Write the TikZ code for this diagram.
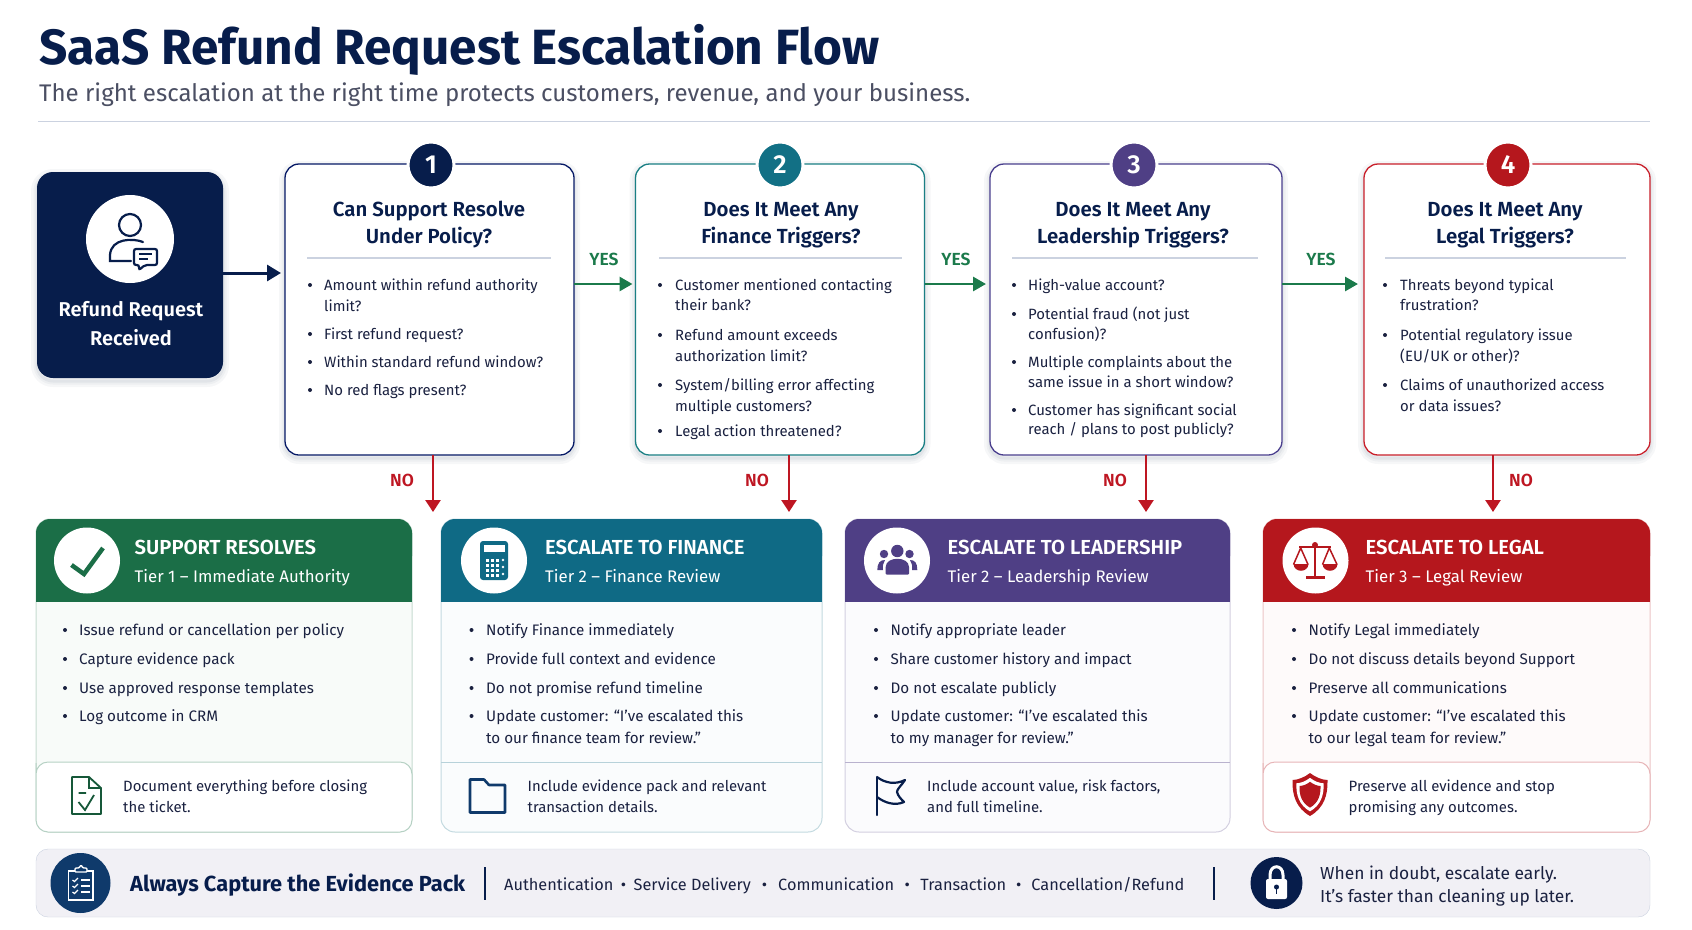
\documentclass[tikz,border=0pt]{standalone}
\usepackage{fontspec}
\usepackage{xcolor}
\setmainfont{Fira Sans}
\newfontfamily\medfont{Fira Sans SemiBold}
\usetikzlibrary{arrows.meta}
\definecolor{navy}{HTML}{071D4B}
\definecolor{ink}{HTML}{1A2140}
\definecolor{subgrey}{HTML}{4B4F63}
\definecolor{rulegrey}{HTML}{CBD2E0}
\definecolor{okgreen}{HTML}{1B7A4B}
\definecolor{nored}{HTML}{BE1622}
\definecolor{hgreen}{HTML}{1B6E47}
\definecolor{hteal}{HTML}{0F6A85}
\definecolor{hpurple}{HTML}{4F3F85}
\definecolor{hred}{HTML}{B5171D}
\definecolor{bteal}{HTML}{1A7F84}
\definecolor{bpurple}{HTML}{4A3F8E}
\definecolor{bred}{HTML}{C9202B}
\definecolor{iconblue}{HTML}{0F3A6B}
\tikzset{
	softshadow/.style={
		preaction={draw=navy,draw opacity=.035,line width=12,transform canvas={yshift=-3}},
		preaction={draw=navy,draw opacity=.035,line width=7,transform canvas={yshift=-3}},
		preaction={draw=navy,draw opacity=.05,line width=3,transform canvas={yshift=-3}}},
	startbox/.style={fill=navy,rounded corners=16,minimum width=186,minimum height=206,inner sep=0,outer sep=0,softshadow},
	askbox/.style={fill=white,line width=1.3,rounded corners=14,minimum height=291,inner sep=0,outer sep=0,softshadow},
	badge/.style={circle,draw=white,line width=3,minimum size=46,inner sep=0,text=white,font=\medfont\fontsize{26}{26}\selectfont},
	asktitle/.style={anchor=base,inner sep=0,text=navy,font=\medfont\fontsize{20.4}{22}\selectfont},
	item/.style={anchor=base west,inner sep=0,text=ink,font=\fontsize{14.9}{18}\selectfont},
	carditem/.style={item,font=\fontsize{15.2}{18}\selectfont},
	dot/.style={fill=ink},
	yesline/.style={draw=okgreen,line width=2.8,-{Triangle[length=13pt,width=14pt]}},
	noline/.style={draw=nored,line width=2.6,-{Triangle[length=12pt,width=15pt]},shorten >=7pt},
	yeslabel/.style={inner sep=0,text=okgreen,font=\medfont\fontsize{17.5}{20}\selectfont},
	nolabel/.style={inner sep=0,text=nored,font=\medfont\fontsize{17.5}{20}\selectfont},
	card/.style={line width=1,rounded corners=14,minimum height=313,inner sep=0,outer sep=0},
	iconcircle/.style={circle,fill=white,minimum size=66,inner sep=0},
	cardtitle/.style={anchor=base west,inner sep=0,text=white,font=\medfont\fontsize{20.3}{24}\selectfont},
	cardsub/.style={anchor=base west,inner sep=0,text=white,font=\fontsize{16.8}{20}\selectfont},
}
\begin{document}
\begin{tikzpicture}[x=1pt,y=-1pt]
		\useasboundingbox (0,0) rectangle (1692,929);
		\fill[white] (0,0) rectangle (1692,929);

		\node[anchor=base west,inner sep=0,text=navy,font=\bfseries\fontsize{49.5}{54}\selectfont] (title) at (39,64) {SaaS Refund Request Escalation Flow};
		\node[anchor=base west,inner sep=0,text=subgrey,font=\fontsize{24.05}{28}\selectfont] (subtitle) at (39,101) {The right escalation at the right time protects customers, revenue, and your business.};
		\draw[rulegrey,line width=1] (38,121)--(1650,121);

		\node[startbox] (start) at (130,275) {};
		\node[circle,fill=white,minimum size=88,inner sep=0] (startcircle) at (130,239) {};
		\draw[navy,line width=2.2] (130,225) circle(11);
		\draw[navy,line width=2.2,line cap=round] (143,242) .. controls (133,238) and (111,238) .. (110,255) -- (110,261) -- (131,261);
		\draw[navy,line width=2.2,fill=white,rounded corners=2] (134,249) -- (157,249) -- (157,265) -- (145,265) -- (139,270) -- (139,265) -- (134,265) -- cycle;
		\draw[navy,line width=1.8] (139,254) -- (152,254) (139,259) -- (148,259);
		\node[anchor=base,inner sep=0,text=white,font=\medfont\fontsize{20}{24}\selectfont] (startone) at (131,316) {Refund Request};
		\node[anchor=base,inner sep=0,text=white,font=\medfont\fontsize{20}{24}\selectfont] (starttwo) at (131,345) {Received};

		\node[askbox,draw=navy!85!blue,minimum width=289] (q1) at (429.5,309.5) {};
		\node[askbox,draw=bteal,minimum width=289] (q2) at (780,309.5) {};
		\node[askbox,draw=bpurple,minimum width=292] (q3) at (1136,309.5) {};
		\node[askbox,draw=bred,minimum width=286] (q4) at (1507,309.5) {};

		\node[badge,fill=navy] (b1) at (431,165) {1};
		\node[badge,fill=hteal!70!bteal] (b2) at (780,165) {2};
		\node[badge,fill=hpurple] (b3) at (1134,165) {3};
		\node[badge,fill=hred] (b4) at (1508,165) {4};

		\foreach \x/\y/\t [count=\i] in {429/216/{Can Support Resolve},429/243/{Under Policy?},781/216/{Does It Meet Any},781/243/{Finance Triggers?},1133/216/{Does It Meet Any},1133/243/{Leadership Triggers?},1505/216/{Does It Meet Any},1505/243/{Legal Triggers?}}
			\node[asktitle] (asktext\i) at (\x,\y) {\t};
		\draw[rulegrey,line width=1.2] (307,258)--(551,258);
		\draw[rulegrey,line width=1.2] (659,258)--(902,258);
		\draw[rulegrey,line width=1.2] (1012,258)--(1258,258);
		\draw[rulegrey,line width=1.2] (1385,258)--(1626,258);

		\foreach \y/\t in {290/{Amount within refund authority},311/{limit?},339/{First refund request?},367/{Within standard refund window?},395/{No red flags present?}}
			\node[item] (qa\y) at (324,\y) {\t};
		\foreach \y in {290,339,367,395}
			\fill[dot] (310,\y-5) circle(2);
		\foreach \y/\t in {290/{Customer mentioned contacting},310/{their bank?},340/{Refund amount exceeds},361/{authorization limit?},390/{System/billing error affecting},411/{multiple customers?},436/{Legal action threatened?}}
			\node[item] (qb\y) at (675,\y) {\t};
		\foreach \y in {290,340,390,436}
			\fill[dot] (660,\y-5) circle(2);
		\foreach \y/\t in {290/{High-value account?},319/{Potential fraud (not just},339/{confusion)?},367/{Multiple complaints about the},387/{same issue in a short window?},415/{Customer has significant social},434/{reach / plans to post publicly?}}
			\node[item] (qc\y) at (1028,\y) {\t};
		\foreach \y in {290,319,367,415}
			\fill[dot] (1014,\y-5) circle(2);
		\foreach \y/\t in {290/{Threats beyond typical},310/{frustration?},340/{Potential regulatory issue},361/{(EU/UK or other)?},390/{Claims of unauthorized access},411/{or data issues?}}
			\node[item] (qd\y) at (1400,\y) {\t};
		\foreach \y in {290,340,390}
			\fill[dot] (1385,\y-5) circle(2);

		\draw[navy,line width=3,-{Triangle[length=14pt,width=16pt]},shorten >=4pt] ([yshift=2]start.east) -- ([yshift=2]start.east -| q1.west);
		\draw[yesline,shorten >=3pt] ([yshift=25.5]q1.east) -- ([yshift=25.5]q1.east -| q2.west);
		\draw[yesline,shorten >=4pt] ([yshift=25.5]q2.east) -- ([yshift=25.5]q2.east -| q3.west);
		\draw[yesline,shorten >=6pt] ([yshift=25.5]q3.east) -- ([yshift=25.5]q3.east -| q4.west);
		\node[yeslabel] (yes1) at (604,259) {YES};
		\node[yeslabel] (yes2) at (956,259) {YES};
		\node[yeslabel] (yes3) at (1321,259) {YES};

		\node[card,draw=hgreen!25,fill=hgreen!3,minimum width=376] (c1) at (224,675.5) {};
		\node[card,draw=hteal!25,fill=hteal!2,minimum width=381] (c2) at (631.5,675.5) {};
		\node[card,draw=hpurple!25,fill=hpurple!2,minimum width=385] (c3) at (1037.5,675.5) {};
		\node[card,draw=hred!25,fill=hred!2,minimum width=387] (c4) at (1456.5,675.5) {};

		\draw[noline] ([xshift=3.5]q1.south) -- ([xshift=3.5]q1.south |- c1.north);
		\draw[noline] ([xshift=9]q2.south) -- ([xshift=9]q2.south |- c2.north);
		\draw[noline] ([xshift=10]q3.south) -- ([xshift=10]q3.south |- c3.north);
		\draw[noline] ([xshift=-14]q4.south) -- ([xshift=-14]q4.south |- c4.north);
		\node[nolabel] (no1) at (402,480) {NO};
		\node[nolabel] (no2) at (757,480) {NO};
		\node[nolabel] (no3) at (1115,480) {NO};
		\node[nolabel] (no4) at (1521,480) {NO};

		\foreach \l/\r/\c in {36/412/hgreen,441/822/hteal,845/1230/hpurple,1263/1650/hred}{
			\fill[\c,rounded corners=14] (\l,519) rectangle (\r,570);
			\fill[\c] (\l,545) rectangle (\r,602);
		}
		\node[iconcircle] (ic1) at (87,560.5) {};
		\node[iconcircle] (ic2) at (494,560.5) {};
		\node[iconcircle] (ic3) at (897,560.5) {};
		\node[iconcircle] (ic4) at (1315.5,560.5) {};

		\draw[hgreen,line width=4.5] (71.5,565)--(84,574)--(103,548);

		\fill[hteal,rounded corners=3] (480,541) rectangle (508,580);
		\fill[white] (484,545) rectangle (505,552);
		\foreach \x in {487,492,497}
			\foreach \y in {560,565,570,575}
				\fill[white] (\x-1.5,\y-1.5) rectangle (\x+1.5,\y+1.5);
		\foreach \y in {560,567,574}
			\fill[white] (503,\y) circle(1.4);

		\fill[hpurple] (897.3,551) circle(6.2);
		\fill[hpurple] (884,554) circle(4.2);
		\fill[hpurple] (909.5,554) circle(4.2);
		\fill[hpurple,rounded corners=1] (885.7,574.5) -- (885.7,568) .. controls (885.7,556) and (909,556) .. (909,568) -- (909,574.5) -- cycle;
		\fill[hpurple] (877.3,570) .. controls (877.3,563) and (880,560) .. (885,560) .. controls (883,563) and (882.5,566) .. (883,570) -- cycle;
		\fill[hpurple] (917.3,570) .. controls (917.3,563) and (915,560) .. (910,560) .. controls (912,563) and (912.5,566) .. (912,570) -- cycle;

		\draw[hred,line width=2.2] (1315,545)--(1315,577) (1299,547)--(1331,547);
		\draw[hred,line width=3] (1306,577.5)--(1325,577.5);
		\fill[hred] (1315,545) circle(3);
		\draw[hred,line width=1.5] (1293.5,564.5)--(1300.7,548)--(1308,564.5) (1322.5,564.5)--(1329.3,548)--(1337,564.5);
		\fill[hred] (1293.5,564) .. controls (1294,573) and (1308,573) .. (1308.5,564) -- cycle;
		\fill[hred] (1322.5,564) .. controls (1323,573) and (1337,573) .. (1337.5,564) -- cycle;

		\foreach \x/\y/\t/\s [count=\i] in {134.5/554/{SUPPORT RESOLVES}/{Tier 1 – Immediate Authority},545/554/{ESCALATE TO FINANCE}/{Tier 2 – Finance Review},947.5/554/{ESCALATE TO LEADERSHIP}/{Tier 2 – Leadership Review},1365.5/554/{ESCALATE TO LEGAL}/{Tier 3 – Legal Review}}{
			\node[cardtitle] (ctitle\i) at (\x,\y) {\t};
			\node[cardsub] (csub\i) at (\x,\y+28) {\s};
		}

		\foreach \y/\t in {635/{Issue refund or cancellation per policy},664/{Capture evidence pack},693/{Use approved response templates},721/{Log outcome in CRM}}{
			\node[carditem] (ca\y) at (79,\y) {\t};
			\fill[dot] (65,\y-5) circle(2);
		}
		\foreach \y/\t in {635/{Notify Finance immediately},664/{Provide full context and evidence},693/{Do not promise refund timeline},721/{Update customer: “I’ve escalated this}}{
			\node[carditem] (cb\y) at (486,\y) {\t};
			\fill[dot] (471.5,\y-5) circle(2);
		}
		\node[carditem] (cb743) at (486,743) {to our finance team for review.”};
		\foreach \y/\t in {635/{Notify appropriate leader},664/{Share customer history and impact},693/{Do not escalate publicly},721/{Update customer: “I’ve escalated this}}{
			\node[carditem] (cc\y) at (890.5,\y) {\t};
			\fill[dot] (876,\y-5) circle(2);
		}
		\node[carditem] (cc743) at (890.5,743) {to my manager for review.”};
		\foreach \y/\t in {635/{Notify Legal immediately},664/{Do not discuss details beyond Support},693/{Preserve all communications},721/{Update customer: “I’ve escalated this}}{
			\node[carditem] (cd\y) at (1308.5,\y) {\t};
			\fill[dot] (1294,\y-5) circle(2);
		}
		\node[carditem] (cd743) at (1308.5,743) {to our legal team for review.”};

		\draw[hgreen!32,line width=1,fill=white,rounded corners=12] (36,775) -- (36,762) -- (412,762) -- (412,832) -- (36,832) -- cycle;
		\draw[hteal!30,line width=1] (441,762)--(822,762);
		\draw[hpurple!40,line width=1] (845,762)--(1230,762);
		\draw[hred!32,line width=1,fill=white,rounded corners=12] (1263,775) -- (1263,762) -- (1650,762) -- (1650,832) -- (1263,832) -- cycle;

		\foreach \x/\a/\b [count=\i] in {123/{Document everything before closing}/{the ticket.},527.5/{Include evidence pack and relevant}/{transaction details.},927/{Include account value, risk factors,}/{and full timeline.},1348.5/{Preserve all evidence and stop}/{promising any outcomes.}}{
			\node[item] (footone\i) at (\x,791) {\a};
			\node[item] (foottwo\i) at (\x,812) {\b};
		}

		\draw[hgreen!80!black,line width=1.8,line join=round] (72,777) -- (89,777) -- (101,788) -- (101,814) -- (72,814) -- cycle;
		\draw[hgreen!80!black,line width=1.5] (89,777) -- (89,788) -- (101,788);
		\draw[hgreen!80!black,line width=1.8] (78.5,793) -- (86,793) (78.5,802) -- (85,810) -- (94,795);

		\draw[iconblue,line width=2.6,line join=round] (470,812.5) -- (470,779.5) -- (484,779.5) -- (489,785) -- (505,785) -- (505,812.5) -- cycle;

		\draw[navy,line width=2.2,line cap=round] (877,815) -- (877,777);
		\draw[navy,line width=2.2,line join=round] (877,777) .. controls (885,783) and (895,785) .. (905,780) .. controls (901,786) and (897,789) .. (897,792) .. controls (898,796) and (901,799) .. (904,802) .. controls (895,806) and (885,803) .. (877,797);

		\begin{scope}[shift={(1310,795)}]
			\foreach \s/\c in {1/hred,0.78/white,0.6/hred}
				\fill[\c,scale=\s] (0,-22) .. controls (5,-18) and (12,-15) .. (17.5,-15) .. controls (18,0) and (14,13) .. (0,21) .. controls (-14,13) and (-18,0) .. (-17.5,-15) .. controls (-12,-15) and (-5,-18) .. (0,-22) -- cycle;
		\end{scope}

		\node[draw=rulegrey,fill=hpurple!8,rounded corners=12,minimum width=1614,minimum height=68,inner sep=0,outer sep=0] (bar) at (843,883) {};
		\node[circle,fill=iconblue,minimum size=60,inner sep=0] (packcircle) at (80.5,883) {};
		\draw[white,line width=1.4] (68.5,871) rectangle (93,900);
		\draw[white,line width=1.4,fill=iconblue,rounded corners=1] (75,872) -- (75,868) -- (79,868) -- (81,865) -- (83,868) -- (87,868) -- (87,872) -- cycle;
		\foreach \y in {880,886,892}{
			\draw[white,line width=1.4] (81,\y) -- (90,\y);
			\draw[white,line width=1.2] (72.5,\y) -- (74.5,\y+1.5) -- (78,\y-2);
		}
		\node[anchor=base west,inner sep=0,text=navy,font=\bfseries\fontsize{21.8}{26}\selectfont] (packtext) at (130,891) {Always Capture the Evidence Pack};
		\draw[navy,line width=1.2] (485,867)--(485,900);
		\node[anchor=base west,inner sep=0,text=ink,font=\fontsize{16.3}{20}\selectfont] (packlist) at (504,890) {Authentication\hspace{7.5pt}•\hspace{7.5pt}Service Delivery\hspace{11pt}•\hspace{11pt}Communication\hspace{10.5pt}•\hspace{10.5pt}Transaction\hspace{10pt}•\hspace{10pt}Cancellation/Refund};
		\draw[navy,line width=1.2] (1214,867)--(1214,900);
		\node[circle,fill=navy,minimum size=52,inner sep=0] (lockcircle) at (1276.5,883) {};
		\draw[white,line width=3] (1270,880) -- (1270,875) .. controls (1270,864) and (1283,864) .. (1283,875) -- (1283,880);
		\fill[white,rounded corners=2] (1266,879) rectangle (1287,899);
		\fill[navy] (1276.5,887) circle(2.5);
		\draw[navy,line width=1.6] (1276.5,887)--(1276.5,894);
		\node[anchor=base west,inner sep=0,text=ink,font=\fontsize{17.4}{22}\selectfont] (doubtone) at (1320,879) {When in doubt, escalate early.};
		\node[anchor=base west,inner sep=0,text=ink,font=\fontsize{17.4}{22}\selectfont] (doubttwo) at (1320,902) {It’s faster than cleaning up later.};
	\end{tikzpicture}
\end{document}
